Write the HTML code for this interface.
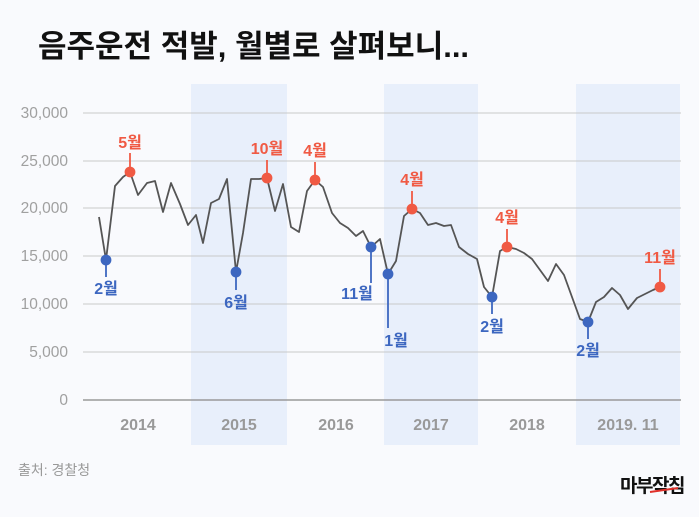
<!DOCTYPE html>
<html><head><meta charset="utf-8"><style>
body{margin:0;width:699px;height:512px;background:#f9fafd;overflow:hidden;font-family:"Liberation Sans","Noto Sans CJK KR",sans-serif}
svg text{font-family:"Liberation Sans","Noto Sans CJK KR",sans-serif}
</style></head><body>
<svg width="699" height="512" viewBox="0 0 699 512">
<rect width="699" height="512" fill="#f9fafd"/>
<text x="38" y="57" font-size="31" font-weight="bold" fill="#111">음주운전 적발, 월별로 살펴보니...</text>
<rect x="191" y="84" width="96" height="361" fill="#e8effb"/>
<rect x="384" y="84" width="94" height="361" fill="#e8effb"/>
<rect x="576" y="84" width="104" height="361" fill="#e8effb"/>
<g stroke="#c9c9c9" stroke-width="1">
<line x1="83" x2="681" y1="113" y2="113"/><line x1="83" x2="681" y1="161" y2="161"/>
<line x1="83" x2="681" y1="208" y2="208"/><line x1="83" x2="681" y1="256" y2="256"/>
<line x1="83" x2="681" y1="304" y2="304"/><line x1="83" x2="681" y1="352" y2="352"/>
</g>
<line x1="83" x2="681" y1="400" y2="400" stroke="#999" stroke-width="1.5"/>
<g font-size="15.5" fill="#a0a0a0" text-anchor="end">
<text x="68" y="118">30,000</text><text x="68" y="166">25,000</text><text x="68" y="213">20,000</text>
<text x="68" y="261">15,000</text><text x="68" y="309">10,000</text><text x="68" y="357">5,000</text><text x="68" y="405">0</text>
</g>
<g font-size="16" font-weight="bold" fill="#999" text-anchor="middle">
<text x="138" y="430">2014</text><text x="239" y="430">2015</text><text x="336" y="430">2016</text>
<text x="431" y="430">2017</text><text x="527" y="430">2018</text><text x="628" y="430">2019. 11</text>
</g>
<polyline fill="none" stroke="#555" stroke-width="1.8" stroke-linejoin="round" points="
99,217 106,260 115,186 123,177 130,172 138,195 147,183 155,181 163,212 171,183 180,204 188,225
196,215 203,243 211,203 219,199 227,179 236,272 243,233 251,179 259,179 267,178 275,211 283,184
291,227 299,232 307,191 315,180 323,187 332,213 340,223 348,228 356,236 363,231 371,247 380,239
388,274 396,261 404,216 412,209 420,213 428,225 436,223 444,226 451,225 459,247 468,254 477,259
484,287 492,297 500,251 507,247 516,249 524,253 532,259 540,270 548,281 556,264 564,275 572,297
580,319 588,322 596,302 604,297 612,288 620,295 628,309 637,298 645,294 653,290 660,287"/>
<g stroke-width="1.8">
<g stroke="#f05a44" fill="#f05a44">
<line x1="130" y1="172" x2="130" y2="153"/><circle cx="130" cy="172" r="4.5"/>
<line x1="267" y1="178" x2="267" y2="160"/><circle cx="267" cy="178" r="4.5"/>
<line x1="315" y1="180" x2="315" y2="162"/><circle cx="315" cy="180" r="4.5"/>
<line x1="412" y1="209" x2="412" y2="191"/><circle cx="412" cy="209" r="4.5"/>
<line x1="507" y1="247" x2="507" y2="229"/><circle cx="507" cy="247" r="4.5"/>
<line x1="660" y1="287" x2="660" y2="269"/><circle cx="660" cy="287" r="4.5"/>
</g>
<g stroke="#3d67c0" fill="#3d67c0">
<line x1="106" y1="260" x2="106" y2="277"/><circle cx="106" cy="260" r="4.5"/>
<line x1="236" y1="272" x2="236" y2="290"/><circle cx="236" cy="272" r="4.5"/>
<line x1="371" y1="247" x2="371" y2="283"/><circle cx="371" cy="247" r="4.5"/>
<line x1="388" y1="274" x2="388" y2="328"/><circle cx="388" cy="274" r="4.5"/>
<line x1="492" y1="297" x2="492" y2="314"/><circle cx="492" cy="297" r="4.5"/>
<line x1="588" y1="322" x2="588" y2="339"/><circle cx="588" cy="322" r="4.5"/>
</g>
</g>
<g font-size="16" font-weight="bold" fill="#f05a44" text-anchor="middle">
<text x="130" y="148">5월</text><text x="267" y="154">10월</text><text x="315" y="156">4월</text>
<text x="412" y="185">4월</text><text x="507" y="223">4월</text><text x="660" y="263">11월</text>
</g>
<g font-size="16" font-weight="bold" fill="#3d67c0" text-anchor="middle">
<text x="106" y="294">2월</text><text x="236" y="308">6월</text><text x="357" y="299">11월</text>
<text x="396" y="346">1월</text><text x="492" y="332">2월</text><text x="588" y="356">2월</text>
</g>
<text x="18" y="475" font-size="14" fill="#999">출처: 경찰청</text>
<text x="620" y="492" font-size="19" font-weight="bold" fill="#111" letter-spacing="-1.5">마부작침</text>
<line x1="650" y1="492" x2="678" y2="488" stroke="#e0302a" stroke-width="2"/>
</svg>
</body></html>
